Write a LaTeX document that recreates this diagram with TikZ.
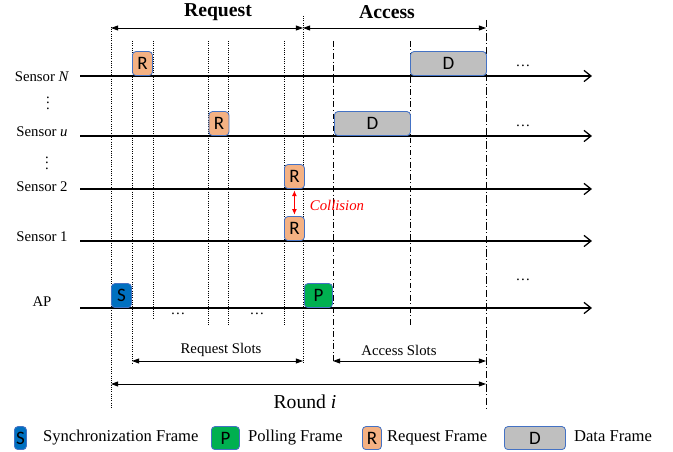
\documentclass[tikz,border=0pt]{standalone}
\usepackage{fontspec}
\setmainfont{Liberation Serif}
\newfontfamily\boxfont{Carlito}
\usepackage{tikz}
\usetikzlibrary{arrows.meta,positioning}

\definecolor{syncblue}{RGB}{0,112,192}
\definecolor{pollgreen}{RGB}{0,176,80}
\definecolor{reqorange}{RGB}{244,177,131}
\definecolor{datagray}{RGB}{191,191,191}
\definecolor{pktline}{RGB}{68,114,196}

\tikzset{
	pkt/.style={draw=pktline, line width=0.6pt, rounded corners=2.5pt, inner sep=0pt,
		anchor=south west, minimum height=0.6cm, font=\boxfont\fontsize{13.5}{15}\selectfont},
	syncpkt/.style={pkt, fill=syncblue, minimum width=0.5cm},
	pollpkt/.style={pkt, fill=pollgreen, minimum width=0.7cm},
	reqpkt/.style={pkt, fill=reqorange, minimum width=0.5cm},
	datapkt/.style={pkt, fill=datagray, minimum width=1.9cm},
	timeline/.style={line width=0.9pt, -{Straight Barb[length=5pt,width=8pt]}},
	slotline/.style={densely dotted, line width=0.6pt},
	accline/.style={dash pattern=on 4pt off 2pt on 0.6pt off 2pt, line width=0.6pt},
	dimarrow/.style={line width=0.6pt, {Triangle[length=5pt,width=3.5pt]}-{Triangle[length=5pt,width=3.5pt]}},
	lbl/.style={font=\fontsize{10.5}{12}\selectfont},
	lgd/.style={font=\fontsize{11.8}{13}\selectfont, inner sep=0pt, text height=8pt, text depth=2.5pt},
}

\begin{document}
\begin{tikzpicture}[x=0.025cm, y=-0.025cm]
	\useasboundingbox (0,0) rectangle (673,452);

	% timelines
	\foreach \y/\ly/\name/\lab in {76/77/sN/{Sensor \textit{N}}, 136/132/su/{Sensor \textit{u}},
			189/187/stwo/{Sensor 2}, 241/237/sone/{Sensor 1}, 308/302/ap/{AP}} {
		\node[lbl] (\name) at (42,\ly) {\lab};
		\draw[timeline] (80,\y) -- (592,\y);
	}
	\node[lbl] (vd1) at (48,99) {$\vdots$};
	\node[lbl] (vd2) at (47,159) {$\vdots$};

	% slot boundaries
	\foreach \x/\bot in {132/363, 153/318, 208/326, 228/326, 284/326}
		\draw[slotline] (\x,41) -- (\x,\bot);
	\draw[slotline] (111,27) -- (111,408);
	\draw[slotline] (303,16) -- (303,363);
	\draw[accline] (333,41) -- (333,363);
	\draw[accline] (410,41) -- (410,325);
	\draw[line width=0.7pt, dash pattern=on 5pt off 2pt on 0.6pt off 2pt] (486,20) -- (486,408);

	% frames
	\node[reqpkt] (rN) at (132,76) {R};
	\node[reqpkt] (ru) at (208.5,136) {R};
	\node[reqpkt] (rtwo) at (284,189) {R};
	\node[reqpkt] (rone) at (284,241) {R};
	\node[datapkt] (dN) at (410,76) {D};
	\node[datapkt] (du) at (334,136) {D};
	\node[syncpkt] (s) at (111,308) {S};
	\node[pollpkt] (p) at (304,308) {P};

	\draw[red, line width=0.7pt, {Latex[length=4pt,width=3.5pt]}-{Latex[length=4pt,width=3.5pt]}]
		([yshift=-1pt]rtwo.south) -- ([yshift=1pt]rone.north);
	\node[red, lbl, font=\fontsize{10.5}{12}\selectfont\itshape] (col) at (337,205) {Collision};

	\foreach \x/\y in {523/66, 523/126, 523/280, 178/314, 257/314}
		\node[lbl] at (\x,\y) {\dots};

	% phases
	\coordinate (rqL) at (111,28);
	\coordinate (rqR) at (303,28);
	\coordinate (acR) at (486,28);
	\draw[dimarrow] (rqL) -- (rqR);
	\draw[dimarrow] (rqR) -- (acR);
	\node[font=\fontsize{14}{16}\selectfont\bfseries] (rq) at (218,12) {Request};
	\node[font=\fontsize{14}{16}\selectfont\bfseries] (ac) at (387,12) {Access};

	\coordinate (rsL) at (132,361);
	\coordinate (rsR) at (303,361);
	\coordinate (asL) at (333,361);
	\coordinate (asR) at (486,361);
	\draw[dimarrow] (rsL) -- (rsR);
	\draw[dimarrow] (asL) -- (asR);
	\node[lbl] (rs) at (221,350) {Request Slots};
	\node[lbl] (as) at (399,350) {Access Slots};

	\coordinate (rdL) at (111,384);
	\coordinate (rdR) at (486,384);
	\draw[dimarrow] (rdL) -- (rdR);
	\node[font=\fontsize{14}{16}\selectfont] (rd) at (305,402) {Round \textit{i}};

	% legend
	\node[syncpkt, minimum width=0.3cm, minimum height=0.575cm] (lgS) at (14,450) {S};
	\node[lgd, right=0.4cm of lgS] (lgSt) {Synchronization Frame};
	\node[pollpkt, minimum height=0.575cm] (lgP) at (211,450) {P};
	\node[lgd, right=0.2cm of lgP] (lgPt) {Polling Frame};
	\node[reqpkt, minimum width=0.475cm, minimum height=0.575cm] (lgR) at (362,450) {R};
	\node[lgd, right=0.125cm of lgR] (lgRt) {Request Frame};
	\node[datapkt, minimum width=1.525cm, minimum height=0.575cm] (lgD) at (504,450) {D};
	\node[lgd, right=0.2cm of lgD] (lgDt) {Data Frame};
\end{tikzpicture}
\end{document}
